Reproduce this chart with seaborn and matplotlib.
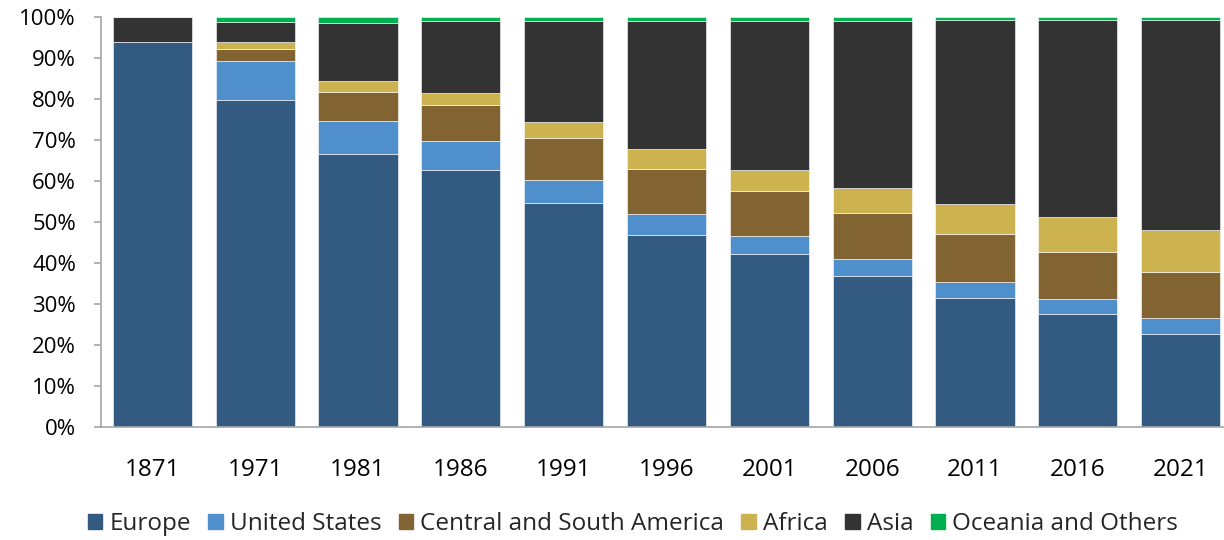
import numpy as np
import pandas as pd
import matplotlib
matplotlib.use("Agg")
import matplotlib.pyplot as plt
import seaborn as sns
from matplotlib.ticker import PercentFormatter

# -----------------------
# Data (shares in %)
# -----------------------
years = ["1871", "1971", "1981", "1986", "1991", "1996", "2001", "2006", "2011", "2016", "2021"]

europe = [94.0, 79.8, 66.7, 62.6, 54.6, 46.9, 42.1, 36.9, 31.5, 27.6, 22.6]
united_states = [0.0, 9.4, 7.9, 7.2, 5.6, 5.1, 4.4, 4.1, 3.9, 3.6, 3.9]
central_south_america = [0.0, 3.1, 7.2, 8.8, 10.4, 11.0, 11.0, 11.2, 11.6, 11.6, 11.4]
africa = [0.0, 1.5, 2.6, 2.9, 3.8, 4.7, 5.1, 6.1, 7.4, 8.3, 10.1]
asia = [6.0, 4.9, 14.1, 17.5, 24.6, 31.3, 36.4, 40.7, 44.8, 48.1, 51.2]
oceania_others = [0.0, 1.3, 1.5, 1.0, 1.0, 1.0, 1.0, 1.0, 0.8, 0.8, 0.8]

series_names = ["Europe", "United States", "Central and South America",
                "Africa", "Asia", "Oceania and Others"]
series_values = [europe, united_states, central_south_america,
                 africa, asia, oceania_others]
series_colors = ["#335A80", "#4F8FCC", "#826432", "#CCB350", "#333333", "#00B050"]

# -----------------------
# Plot
# -----------------------
sns.set_style("white")
plt.rcParams["font.family"] = ["Open Sans", "DejaVu Sans"]

fig = plt.figure(figsize=(12.24, 5.4), dpi=100)
ax = fig.add_axes([101 / 1224, 113 / 540, 1131 / 1224, 410 / 540])

bottom = np.zeros(len(years))
handles = []
for name, vals, col in zip(series_names, series_values, series_colors):
    df = pd.DataFrame({"year": years, "share": vals})
    sns.barplot(data=df, x="year", y="share", bottom=bottom, color=col,
                width=0.77, saturation=1, edgecolor="white", linewidth=0.4,
                ax=ax)
    handles.append(plt.Rectangle((0, 0), 1, 1, color=col, label=name))
    bottom = bottom + np.array(vals)

ax.set_ylim(0, 100)
ax.set_xlim(-0.5, len(years) - 0.5)
ax.set_yticks(np.arange(0, 101, 10))
ax.yaxis.set_major_formatter(PercentFormatter(decimals=0))
ax.set_xlabel("")
ax.set_ylabel("")

for side in ["top", "right"]:
    ax.spines[side].set_visible(False)
for side in ["left", "bottom"]:
    ax.spines[side].set_color("#A6A6A6")
    ax.spines[side].set_linewidth(1.2)

ax.tick_params(axis="y", which="both", left=True, length=5, width=1.2,
               color="#A6A6A6", pad=13, labelsize=16, labelcolor="#000000")
ax.tick_params(axis="x", which="both", bottom=False, pad=19,
               labelsize=17.5, labelcolor="#000000")

fig.legend(handles=handles, loc="center", bbox_to_anchor=(633 / 1224, 16 / 540),
           ncol=6, frameon=False, fontsize=17.5, handlelength=0.6,
           handleheight=0.6, handletextpad=0.3, columnspacing=0.7)

fig.savefig("out.png", dpi=100)
